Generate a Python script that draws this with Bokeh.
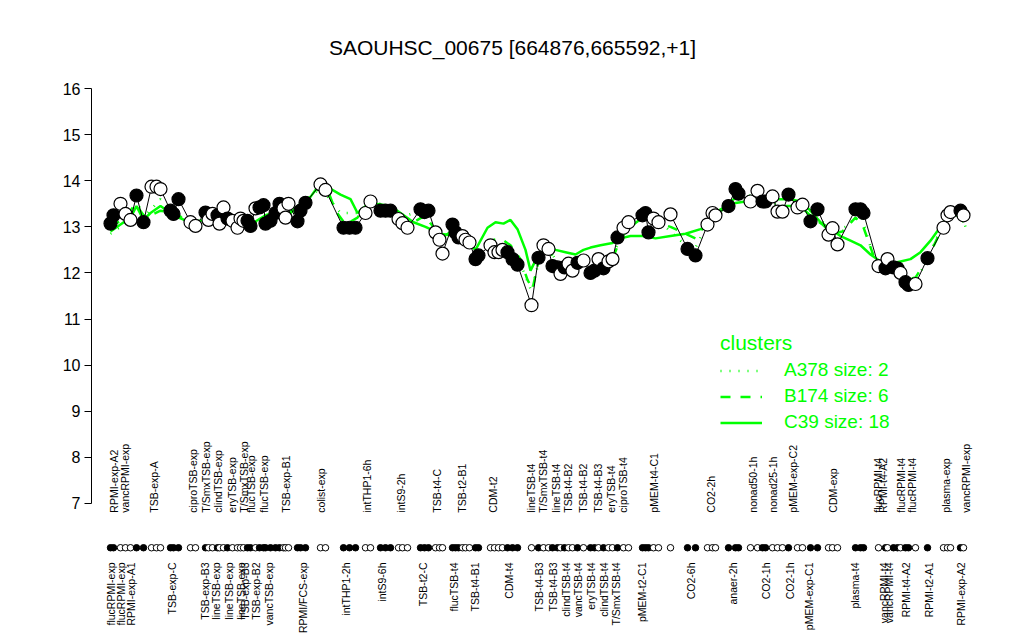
import math
from bokeh.plotting import figure
from bokeh.models import Range1d, LinearAxis, FixedTicker, ColumnDataSource, Legend, LegendItem, Label
from bokeh.core.properties import value
from bokeh.embed import file_html
from bokeh.resources import INLINE

# ---------------- data ----------------
pos = [110, 113, 120, 125, 130, 136, 143, 151, 156, 160, 170, 173, 178, 190, 195,
       205, 208, 212, 217, 219, 223, 227, 232, 237, 240, 243, 247, 250, 255, 259,
       263, 265, 270, 275, 279, 283, 285, 288, 297, 300, 305, 320, 325, 343, 349,
       355, 365, 370, 380, 385, 390, 398, 402, 407, 420, 424, 428, 435, 439, 442,
       452, 455, 458, 462, 465, 469, 475, 478, 490, 494, 498, 502, 507, 512, 517,
       531, 538, 543, 548, 552, 557, 560, 564, 568, 572, 577, 583, 590, 594, 598,
       603, 608, 612, 617, 623, 628, 642, 645, 648, 653, 658, 670, 687, 695, 707,
       712, 715, 728, 735, 738, 750, 757, 762, 765, 772, 777, 782, 788, 797, 802,
       810, 817, 828, 832, 837, 855, 860, 863, 878, 885, 887, 893, 897, 900, 905,
       908, 915, 927, 943, 947, 950, 960, 963]
expr = [13.07, 13.25, 13.5, 13.28, 13.15, 13.68, 13.1, 13.87, 13.87, 13.82, 13.35, 13.28, 13.6, 13.1, 13.02,
        13.31, 13.15, 13.28, 13.25, 13.07, 13.42, 13.18, 13.13, 12.98, 13.18, 13.13, 13.13, 13.02, 13.4, 13.42,
        13.47, 13.07, 13.13, 13.3, 13.5, 13.4, 13.2, 13.5, 13.12, 13.35, 13.52, 13.92, 13.8, 12.98, 12.98,
        12.98, 13.3, 13.55, 13.35, 13.35, 13.35, 13.17, 13.08, 12.98, 13.38, 13.32, 13.35, 12.88, 12.72, 12.42,
        13.05, 12.88, 12.77, 12.8, 12.72, 12.66, 12.3, 12.38, 12.6, 12.45, 12.45, 12.5, 12.45, 12.3, 12.18,
        11.3, 12.33, 12.6, 12.52, 12.15, 12.12, 11.98, 12.12, 12.2, 12.05, 12.22, 12.27, 12.0, 12.05, 12.3,
        12.1, 12.25, 12.3, 12.77, 12.98, 13.1, 13.25, 13.3, 12.88, 13.18, 13.1, 13.27, 12.52, 12.38, 13.05,
        13.3, 13.25, 13.45, 13.82, 13.72, 13.55, 13.78, 13.55, 13.55, 13.66, 13.33, 13.33, 13.7, 13.42, 13.48,
        13.12, 13.38, 12.83, 12.97, 12.62, 13.38, 13.38, 13.3, 12.15, 12.1, 12.3, 12.12, 12.1, 12.0, 11.8,
        11.74, 11.76, 12.32, 12.98, 13.25, 13.32, 13.35, 13.25]
filled = [1, 1, 0, 0, 0, 1, 1, 0, 0, 0, 1, 1, 1, 0, 0,
          1, 0, 0, 1, 0, 0, 1, 0, 0, 0, 0, 1, 1, 0, 1,
          1, 1, 1, 1, 1, 0, 0, 0, 1, 1, 1, 0, 0, 1, 1,
          1, 0, 0, 1, 1, 1, 0, 0, 0, 1, 1, 1, 0, 0, 0,
          1, 1, 1, 0, 0, 0, 1, 1, 0, 0, 0, 0, 1, 1, 1,
          0, 1, 0, 0, 1, 1, 0, 1, 0, 0, 1, 0, 1, 1, 0,
          1, 0, 0, 1, 0, 0, 1, 1, 1, 0, 0, 0, 1, 1, 0,
          0, 0, 1, 1, 1, 0, 0, 1, 1, 0, 0, 0, 1, 0, 0,
          1, 1, 0, 0, 0, 1, 1, 1, 0, 1, 0, 1, 1, 0, 1,
          1, 0, 1, 0, 0, 0, 1, 0]

bottom_pos = [110, 120, 130, 171, 204, 215, 228, 240, 244, 255, 268, 302, 345, 381, 422, 453, 474, 508,
              538, 552, 565, 577, 590, 603, 615, 641, 690, 732, 765, 789, 808, 854, 883, 888, 905, 928, 960]
bottom_txt = ["flucRPMI-exp", "flucRPMI-exp", "RPMI-exp-A1", "TSB-exp-C", "TSB-exp-B3", "lineTSB-exp",
              "lineTSB-exp", "lineTSB-exp", "TSB-exp-B3", "TSB-exp-B2", "vancTSB-exp", "RPMI/FCS-exp",
              "intTHP1-2h", "intS9-6h", "TSB-t2-C", "flucTSB-t4", "TSB-t4-B1", "CDM-t4", "TSB-t4-B3",
              "TSB-t4-B3", "clindTSB-t4", "vancTSB-t4", "eryTSB-t4", "clindTSB-t4", "T/SmxTSB-t4",
              "pMEM-t2-C1", "CO2-6h", "anaer-2h", "CO2-1h", "CO2-1h", "pMEM-exp-C1", "plasma-t4",
              "vancRPMI-t4", "vancRPMI-t4", "RPMI-t4-A2", "RPMI-t2-A1", "RPMI-exp-A2"]
top_pos = [113, 124, 153, 192, 205, 217, 231, 243, 250, 263, 285, 320, 366, 400, 436, 461, 492,
           530, 542, 555, 567, 582, 597, 610, 622, 653, 710, 752, 772, 792, 832, 877, 882, 900, 911, 945, 965]
top_txt = ["RPMI-exp-A2", "vancRPMI-exp", "TSB-exp-A", "ciproTSB-exp", "T/SmxTSB-exp", "clindTSB-exp",
           "eryTSB-exp", "T/SmxTSB-exp", "flucTSB-exp", "flucTSB-exp", "TSB-exp-B1", "colist-exp",
           "intTHP1-6h", "intS9-2h", "TSB-t4-C", "TSB-t2-B1", "CDM-t2", "lineTSB-t4", "T/SmxTSB-t4",
           "lineTSB-t4", "TSB-t4-B2", "TSB-t4-B2", "TSB-t4-B3", "eryTSB-t4", "ciproTSB-t4", "pMEM-t4-C1",
           "CO2-2h", "nonad50-1h", "nonad25-1h", "pMEM-exp-C2", "CDM-exp", "flucRPMI-t4", "RPMI-t4-A2",
           "flucRPMI-t4", "flucRPMI-t4", "plasma-exp", "vancRPMI-exp"]

c39_pos = [110, 120, 130, 136, 143, 150, 160, 170, 178, 190, 205, 220, 235, 250, 265, 280, 290, 300, 310,
           320, 328, 340, 350, 357, 365, 375, 390, 400, 413, 425, 440, 455, 465, 475, 487, 495, 503, 510,
           517, 525, 530, 538, 545, 555, 565, 575, 583, 590, 600, 612, 620, 630, 643, 655, 670, 685, 700,
           710, 718, 730, 745, 760, 775, 790, 800, 810, 820, 830, 840, 850, 860, 870, 880, 890, 900, 910,
           920, 930, 940, 948, 955, 963]
c39_val = [12.9, 13.05, 13.2, 13.45, 13.15, 13.3, 13.45, 13.3, 13.2, 13.1, 13.15, 13.2, 13.1, 13.05, 13.25,
           13.35, 13.3, 13.5, 13.65, 13.95, 13.85, 13.7, 13.6, 13.3, 13.45, 13.5, 13.45, 13.3, 13.1, 13.0,
           12.85, 12.8, 12.72, 12.5, 12.98, 13.1, 13.07, 13.15, 12.95, 12.5, 12.05, 12.4, 12.6, 12.5, 12.45,
           12.4, 12.5, 12.55, 12.6, 12.65, 12.75, 12.8, 12.8, 12.75, 12.8, 12.85, 12.95, 13.05, 13.35, 13.5,
           13.55, 13.6, 13.6, 13.6, 13.55, 13.35, 13.1, 12.95, 12.8, 12.7, 12.6, 12.4, 12.25, 12.2, 12.25,
           12.3, 12.45, 12.7, 13.0, 13.2, 13.4, 13.1]
b174_pos = [110, 125, 135, 143, 150, 160, 175, 190, 205, 220, 235, 250, 265, 280, 295, 310, 320, 328, 335,
            345, 357, 367, 380, 392, 402, 413, 425, 440, 455, 465, 477, 490, 500, 510, 520, 527, 532, 540,
            548, 558, 570, 580, 590, 600, 612, 620, 630, 645, 655, 670, 685, 695, 705, 715, 730, 740, 755,
            770, 785, 800, 812, 822, 832, 842, 855, 862, 875, 885, 895, 905, 915, 928, 940, 950, 962]
b174_val = [13.0, 13.2, 13.5, 13.25, 13.25, 13.35, 13.3, 13.05, 13.15, 13.2, 13.05, 13.05, 13.2, 13.3, 13.35,
            13.6, 13.9, 13.75, 13.35, 13.05, 13.2, 13.5, 13.45, 13.4, 13.15, 13.1, 13.25, 12.75, 12.95, 12.75,
            12.45, 12.7, 12.75, 12.6, 12.3, 11.85, 11.65, 12.45, 12.5, 12.2, 12.2, 12.3, 12.15, 12.2, 12.3,
            12.75, 13.0, 13.25, 13.1, 13.0, 12.85, 12.75, 13.05, 13.25, 13.55, 13.7, 13.6, 13.6, 13.45, 13.45,
            13.2, 13.05, 12.85, 12.9, 13.2, 13.05, 12.25, 12.1, 12.1, 11.85, 11.9, 12.35, 12.9, 13.3, 13.2]
a378_pos = [110, 130, 136, 143, 160, 178, 195, 220, 245, 265, 285, 305, 320, 340, 357, 368, 385, 400, 420,
            440, 455, 470, 478, 495, 510, 520, 531, 540, 548, 560, 575, 590, 605, 617, 630, 645, 660, 680,
            695, 710, 728, 740, 760, 780, 800, 815, 830, 845, 860, 875, 890, 905, 915, 928, 945, 960, 965]
a378_val = [12.85, 13.15, 13.6, 13.2, 13.6, 13.25, 13.0, 13.3, 13.05, 13.15, 13.35, 13.55, 13.85, 13.3, 13.3,
            13.5, 13.5, 13.2, 13.35, 12.8, 12.95, 12.65, 12.4, 12.6, 12.4, 12.2, 11.6, 12.4, 12.55, 12.1, 12.2,
            12.1, 12.2, 12.6, 13.05, 13.3, 13.1, 12.7, 12.55, 13.2, 13.45, 13.75, 13.6, 13.45, 13.45, 13.3,
            12.9, 13.0, 13.3, 12.2, 12.15, 11.8, 11.8, 12.35, 13.2, 13.35, 13.0]

y_ticks = [7, 8, 9, 10, 11, 12, 13, 14, 15, 16]
title_text = "SAOUHSC_00675 [664876,665592,+1]"
legend_title = "clusters"
cluster_names = ["A378 size: 2", "B174 size: 6", "C39 size: 18"]

# ---------------- figure ----------------
FONT = "Liberation Sans"
GREEN = "#00ff00"
p = figure(width=1024, height=640, output_backend="svg", toolbar_location=None,
           x_range=Range1d(91, 1024), y_range=Range1d(4.028, 17.909),
           x_axis_location=None, y_axis_location=None,
           min_border_left=91, min_border_right=0, min_border_top=0, min_border_bottom=0)
p.xgrid.visible = False
p.ygrid.visible = False
p.outline_line_color = None
p.background_fill_color = "white"
p.border_fill_color = "white"

yaxis = LinearAxis(bounds=(7, 16), ticker=FixedTicker(ticks=y_ticks))
yaxis.major_tick_out = 7
yaxis.major_tick_in = 0
yaxis.minor_tick_out = 0
yaxis.minor_tick_in = 0
yaxis.major_label_standoff = 4
yaxis.major_label_text_font = FONT
yaxis.major_label_text_font_size = "16px"
yaxis.major_label_text_color = "black"
yaxis.axis_line_color = "black"
yaxis.major_tick_line_color = "black"
p.add_layout(yaxis, "left")

# cluster lines
r_a = p.line(a378_pos, a378_val, line_color=GREEN, line_width=2.5, line_dash="1 8")
r_b = p.line(b174_pos, b174_val, line_color=GREEN, line_width=2.5, line_dash="10 10")
r_c = p.line(c39_pos, c39_val, line_color=GREEN, line_width=2.5)

# data line + points
fills = ["black" if f else "white" for f in filled]
src = ColumnDataSource(dict(x=pos, y=expr, fill=fills))
p.line("x", "y", source=src, line_color="black", line_width=1)
p.scatter("x", "y", source=src, size=13, fill_color="fill", line_color="black", line_width=1.2)

# marker row
row_src = ColumnDataSource(dict(x=pos, y=[6.04] * len(pos), fill=fills))
p.scatter("x", "y", source=row_src, size=6.5, fill_color="fill", line_color="black", line_width=1)

# sample labels
p.text(x=bottom_pos, y=[5.72] * len(bottom_pos), text=bottom_txt, angle=math.pi / 2,
       text_align="right", text_baseline="middle", text_font=value(FONT),
       text_font_size="10.5px", text_color="black")
p.text(x=top_pos, y=[6.8] * len(top_pos), text=top_txt, angle=math.pi / 2,
       text_align="left", text_baseline="middle", text_font=value(FONT),
       text_font_size="10.5px", text_color="black")

# title
p.add_layout(Label(x=512, y=16.89, text=title_text, text_align="center", text_baseline="middle",
                   text_font=FONT, text_font_size="21px", text_color="black"))

# legend
legend = Legend(items=[LegendItem(label=cluster_names[0], renderers=[r_a]),
                       LegendItem(label=cluster_names[1], renderers=[r_b]),
                       LegendItem(label=cluster_names[2], renderers=[r_c])],
                location=(629, 207), title=legend_title,
                title_text_color=GREEN, title_text_font=FONT, title_text_font_size="21px",
                title_text_font_style="normal", title_standoff=4,
                label_text_color=GREEN, label_text_font=FONT, label_text_font_size="19px",
                glyph_width=42, glyph_height=21, label_height=21, label_standoff=22, spacing=4,
                padding=0, margin=0, border_line_alpha=0, background_fill_alpha=0)
p.add_layout(legend, "center")

open("out.html", "w").write(file_html(p, INLINE))
